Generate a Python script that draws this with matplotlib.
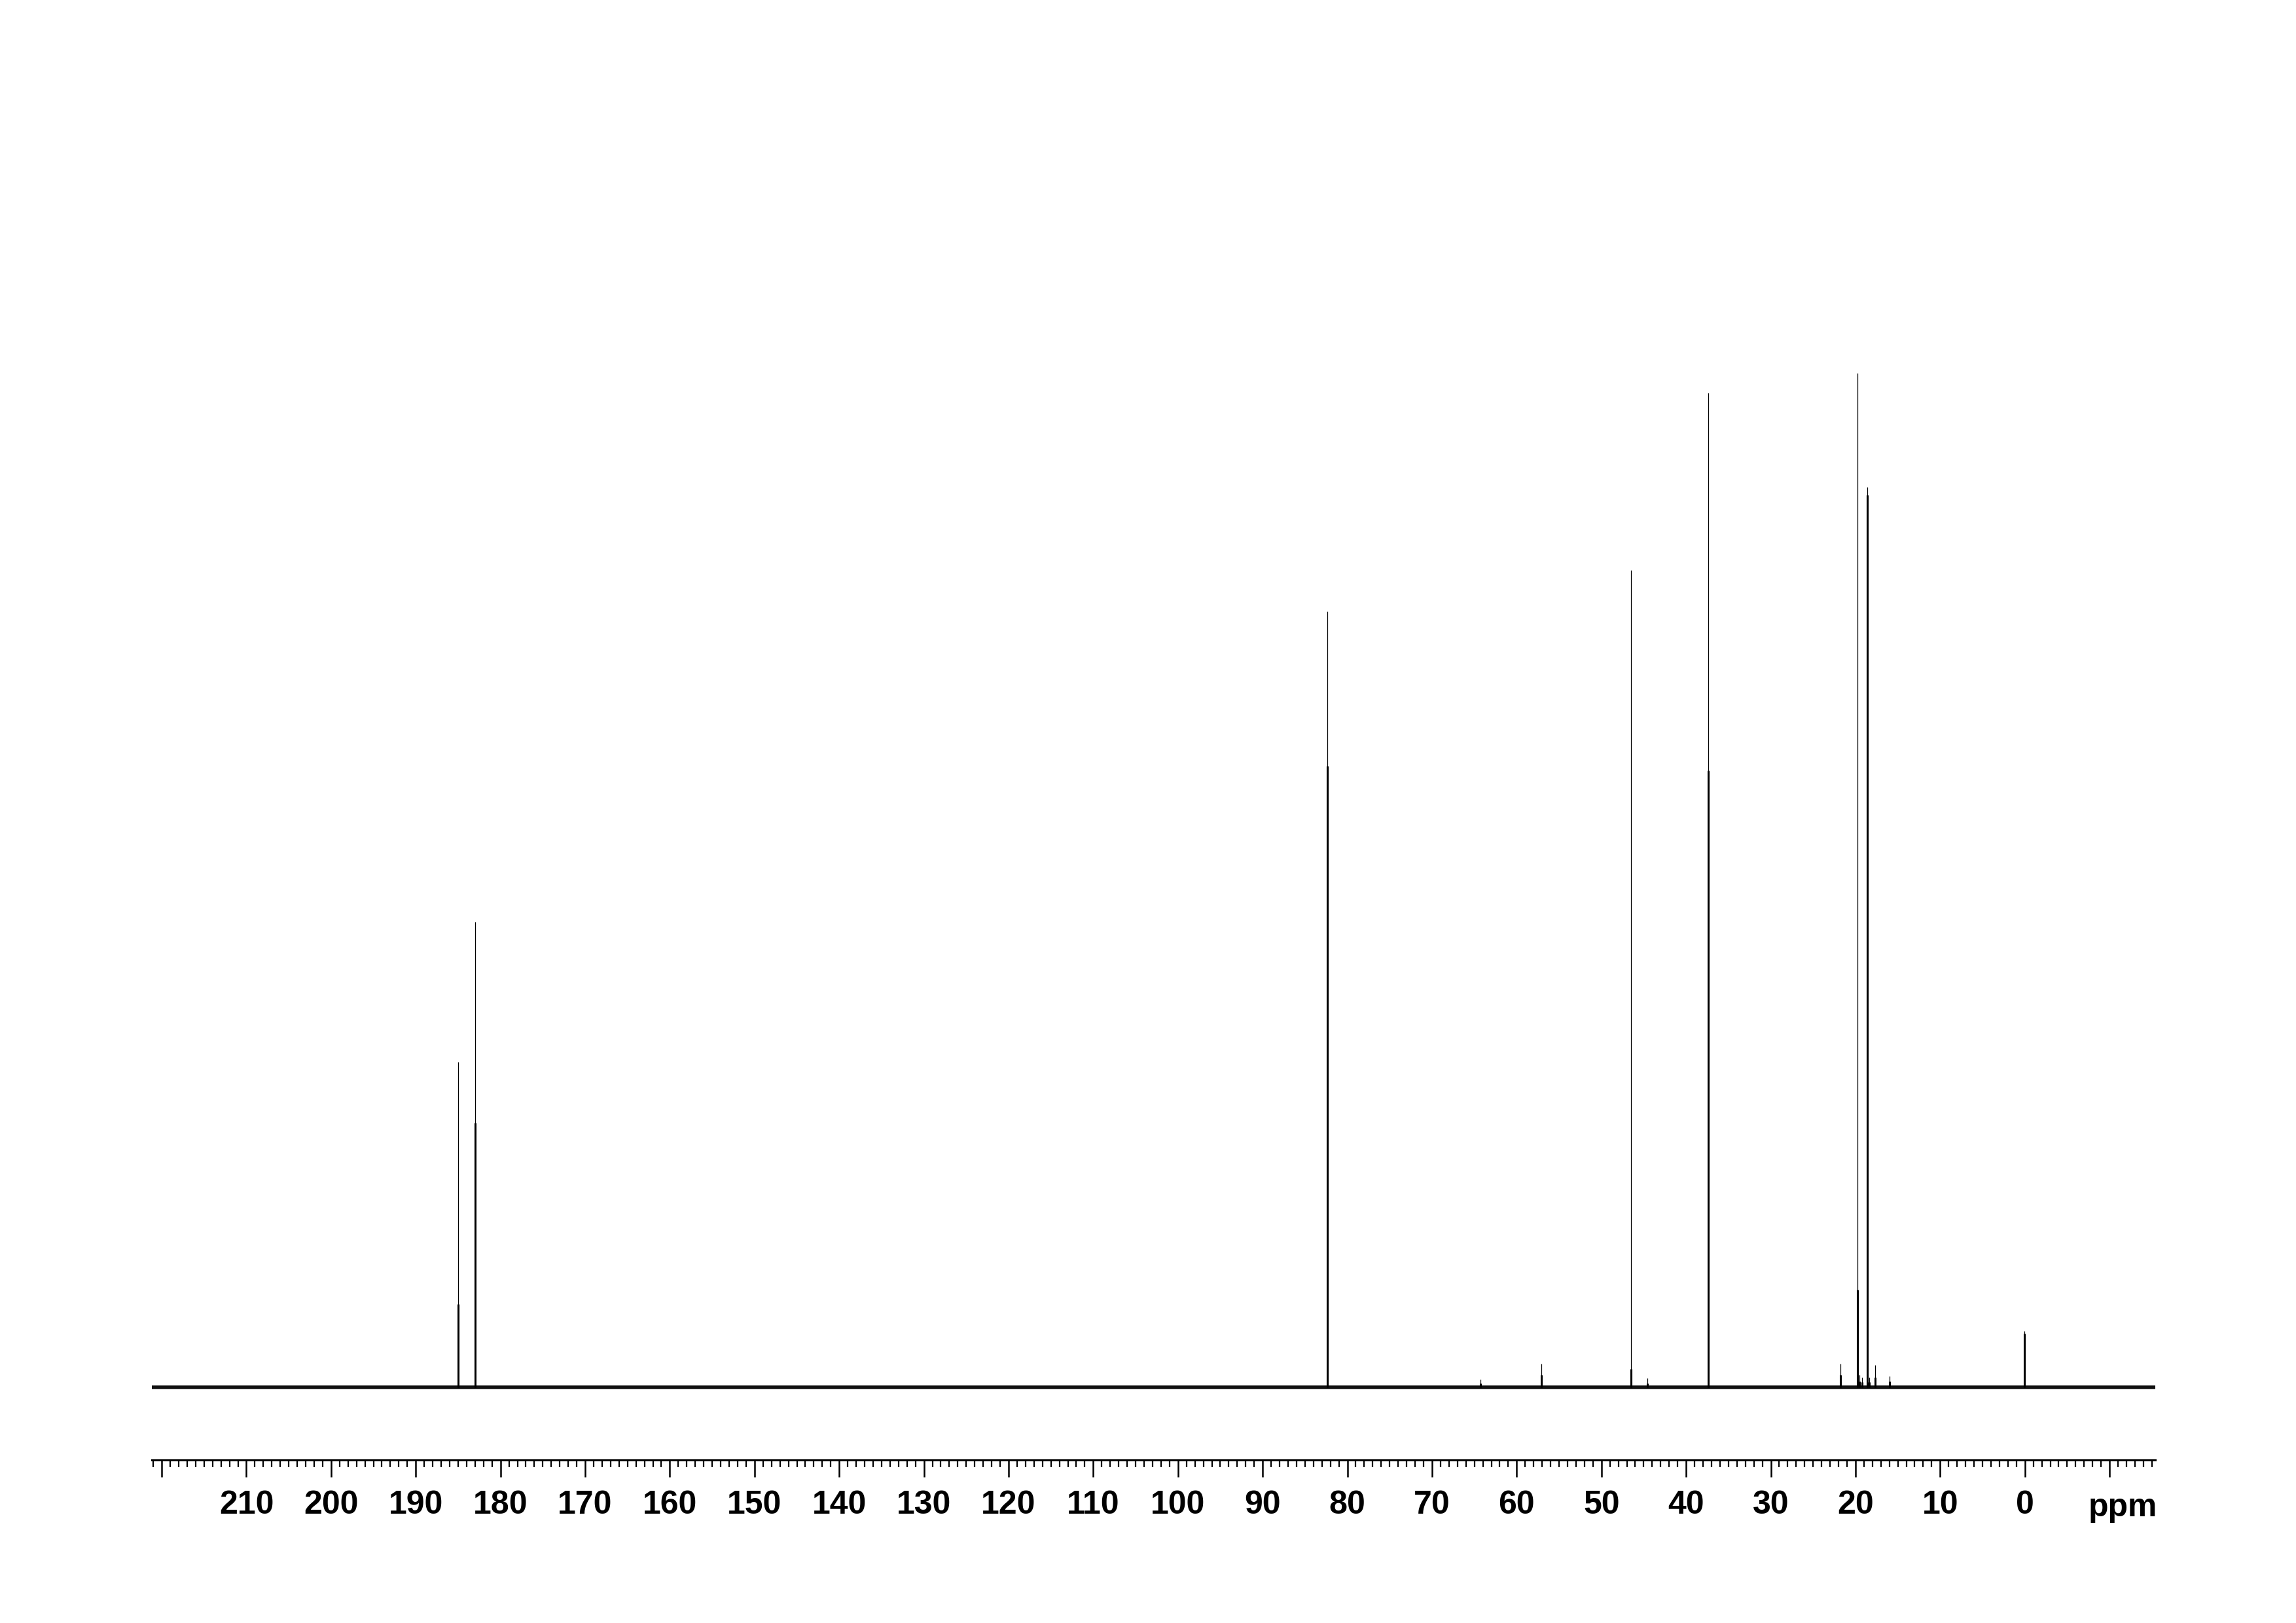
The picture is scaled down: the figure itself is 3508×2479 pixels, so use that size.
import matplotlib
matplotlib.use("Agg")
import matplotlib.pyplot as plt

plt.rcParams['font.family'] = ['Liberation Sans', 'DejaVu Sans']

# peak list (ppm, height of top, height of the broad foot)
peak_ppm = [185.0, 182.96, 82.33, 64.3, 57.1, 46.48, 44.6, 37.41,
            21.8, 19.78, 19.5, 19.2, 18.64, 18.4, 17.65, 16.0, 0.05]
peak_height = [0.321, 0.459, 0.765, 0.008, 0.023, 0.806, 0.009, 0.981,
               0.023, 1.000, 0.012, 0.010, 0.888, 0.010, 0.022, 0.011, 0.0555]
peak_foot = [0.082, 0.261, 0.613, 0.004, 0.012, 0.018, 0.004, 0.608,
             0.012, 0.096, 0.006, 0.005, 0.880, 0.005, 0.010, 0.006, 0.053]

major_ticks = list(range(220, -11, -10))
tick_labels = ['' if t in (220, -10) else str(t) for t in major_ticks]

fig = plt.figure(figsize=(35.08, 24.79), dpi=100)
ax = fig.add_axes([0.066, 0.1004, 0.8727, 0.6978])

# noisy baseline drawn as a band
ax.axhline(0, color='#111111', lw=4.0, zorder=1)
ax.vlines(peak_ppm, 0, peak_foot, color='k', lw=2.2, zorder=2)
ax.vlines(peak_ppm, 0, peak_height, color='k', lw=0.9, zorder=2)

ax.set_xlim(221.2, -15.4)
ax.set_ylim(-0.0717, 1.0452)

for s in ['left', 'right', 'top']:
    ax.spines[s].set_visible(False)
ax.spines['bottom'].set_linewidth(2.2)
ax.set_yticks([])

ax.set_xticks(major_ticks)
ax.set_xticklabels(tick_labels, fontsize=36, fontweight='bold')
ax.set_xticks(range(221, -16, -1), minor=True)
ax.tick_params(axis='x', which='major', direction='out', length=18.7, width=1.8, pad=14)
ax.tick_params(axis='x', which='minor', direction='out', length=8, width=1.6)

ax.text(-11.56, -0.0497, 'ppm', transform=ax.get_xaxis_transform(),
        fontsize=36, fontweight='bold', ha='center', va='baseline')

fig.savefig('out.png', dpi=100)
